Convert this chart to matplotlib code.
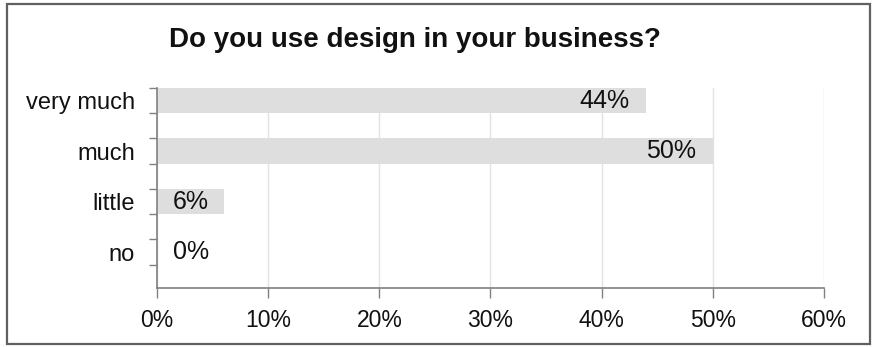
import matplotlib.pyplot as plt
from matplotlib.patches import Rectangle
from matplotlib.ticker import FuncFormatter

plt.rcParams['font.family'] = ['Liberation Sans', 'DejaVu Sans']

categories = ['very much', 'much', 'little', 'no']
shares = [44, 50, 6, 0]
x_ticks = [0, 10, 20, 30, 40, 50, 60]
title = 'Do you use design in your business?'

fig = plt.figure(figsize=(8.78, 3.47), dpi=100)
ax = fig.add_axes([0.1788, 0.170, 0.7597, 0.5764])

pos = list(range(len(categories)))
ax.barh(pos, shares, height=0.5, color='#dedede', zorder=2)

# value labels: inside the bar end for long bars, just right of the axis otherwise
for y, v in zip(pos, shares):
    if v > 10:
        ax.annotate(f'{v}%', (v, y), xytext=(-12, 0), textcoords='offset points',
                    ha='right', va='center', fontsize=18, color='#111111', zorder=3)
    else:
        ax.annotate(f'{v}%', (0, y), xytext=(11.5, 0), textcoords='offset points',
                    ha='left', va='center', fontsize=18, color='#111111', zorder=3)

ax.set_xlim(0, 60)
ax.set_ylim(3.713, -0.248)
ax.set_xticks(x_ticks)
ax.xaxis.set_major_formatter(FuncFormatter(lambda v, p: f'{v:.0f}%'))
ax.tick_params(axis='x', direction='out', length=7, width=1, color='#808080',
               labelsize=16.5, pad=8, labelcolor='#111111')

ax.set_yticks(pos)
ax.set_yticklabels(categories)
ax.set_yticks([p + d for p in pos for d in (-0.25, 0.25)], minor=True)
ax.tick_params(axis='y', which='major', length=0, labelsize=17, pad=16, labelcolor='#111111')
ax.tick_params(axis='y', which='minor', direction='out', length=6, width=1, color='#808080')

ax.grid(axis='x', color='#e2e2e2', linewidth=1, zorder=0)
for side in ('top', 'right'):
    ax.spines[side].set_visible(False)
for side in ('left', 'bottom'):
    ax.spines[side].set_color('#808080')
    ax.spines[side].set_linewidth(1.2)

fig.text(0.4727, 0.885, title, ha='center', va='center', fontsize=20,
         fontweight='bold', color='#111111')

fig.patches.append(Rectangle((0.008, 0.0086), 0.983, 0.980, transform=fig.transFigure,
                             fill=False, edgecolor='#606060', linewidth=1.6))

fig.savefig('out.png', dpi=100)
